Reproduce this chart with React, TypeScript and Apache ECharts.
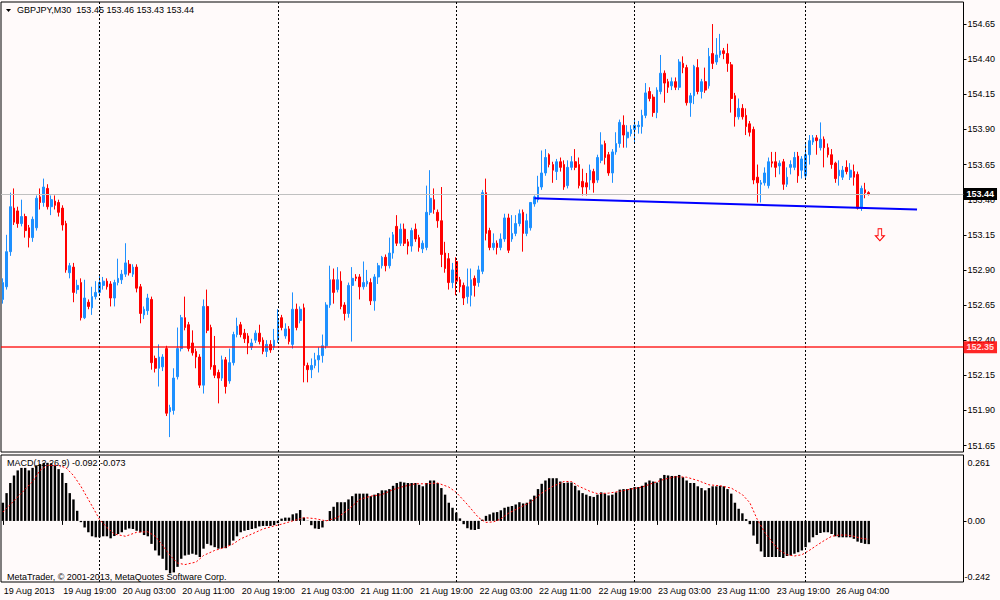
import React, { useEffect, useRef } from "react";
import * as echarts from "echarts";

// ---------- data ----------
const headerText = "GBPJPY,M30  153.45 153.46 153.43 153.44";
const macdTitle = "MACD(12,26,9) -0.092 -0.073";
const copyright = "MetaTrader, \u00A9 2001-2013, MetaQuotes Software Corp.";

// labels every 16 bars (8 hours of M30 bars)
const timeLabels = [
  "19 Aug 2013", "19 Aug 19:00", "20 Aug 03:00", "20 Aug 11:00", "20 Aug 19:00",
  "21 Aug 03:00", "21 Aug 11:00", "21 Aug 19:00", "22 Aug 03:00", "22 Aug 11:00",
  "22 Aug 19:00", "23 Aug 03:00", "23 Aug 11:00", "23 Aug 19:00", "26 Aug 04:00",
];
const labelStep = 16;
const totalSlots = 259; // bars + empty space to the right
const separatorBars = [26, 74, 122, 170, 216]; // day separators

const priceTicks = [151.65, 151.9, 152.15, 152.4, 152.65, 152.9, 153.15, 153.4, 153.65, 153.9, 154.15, 154.4, 154.65];
const priceMin = 151.604;
const priceMax = 154.807;
const macdMin = -0.242;
const macdMax = 0.261;

const bidPrice = 153.44;
const levelPrice = 152.35;
const trendStart = [143, 153.41];
const trendEnd = [246, 153.33];
const sellArrow = [236, 153.15];

// [open, close, low, high]
const candles = [
  [152.69, 152.81, 152.66, 152.84], [152.78, 153.03, 152.76, 153.15], [153.03, 153.35, 153.0, 153.45], [153.34, 153.24, 153.22, 153.48],
  [153.32, 153.23, 153.2, 153.35], [153.23, 153.28, 153.21, 153.4], [153.28, 153.18, 153.13, 153.3], [153.2, 153.13, 153.06, 153.22],
  [153.13, 153.26, 153.1, 153.28], [153.2, 153.41, 153.18, 153.43], [153.42, 153.38, 153.33, 153.48], [153.38, 153.49, 153.35, 153.55],
  [153.48, 153.35, 153.33, 153.51], [153.35, 153.4, 153.29, 153.43], [153.39, 153.36, 153.33, 153.43], [153.38, 153.31, 153.28, 153.4],
  [153.34, 153.22, 153.18, 153.36], [153.23, 152.9, 152.88, 153.25], [152.88, 152.93, 152.84, 152.95], [152.92, 152.74, 152.67, 152.95],
  [152.76, 152.79, 152.73, 152.83], [152.81, 152.56, 152.54, 152.84], [152.56, 152.7, 152.55, 152.83], [152.67, 152.64, 152.62, 152.69],
  [152.63, 152.71, 152.58, 152.78], [152.71, 152.74, 152.69, 152.82], [152.74, 152.81, 152.72, 152.86], [152.79, 152.82, 152.76, 152.85],
  [152.82, 152.78, 152.76, 152.84], [152.8, 152.7, 152.64, 152.82], [152.7, 152.81, 152.64, 152.83], [152.81, 152.84, 152.79, 152.98],
  [152.83, 152.87, 152.8, 152.9], [152.87, 152.95, 152.85, 153.09], [152.94, 152.88, 152.86, 152.97], [152.87, 152.92, 152.85, 152.94],
  [152.92, 152.77, 152.74, 152.94], [152.78, 152.59, 152.52, 152.8], [152.58, 152.62, 152.55, 152.64], [152.61, 152.7, 152.58, 152.73],
  [152.69, 152.24, 152.19, 152.71], [152.27, 152.2, 152.17, 152.29], [152.2, 152.28, 152.07, 152.37], [152.21, 152.28, 152.18, 152.3],
  [152.34, 151.88, 151.86, 152.36], [151.89, 151.92, 151.71, 151.94], [151.9, 152.13, 151.87, 152.2], [152.14, 152.34, 152.12, 152.49],
  [152.34, 152.56, 152.32, 152.58], [152.56, 152.49, 152.47, 152.71], [152.51, 152.34, 152.32, 152.53], [152.38, 152.31, 152.29, 152.47],
  [152.32, 152.28, 152.2, 152.34], [152.28, 152.08, 152.06, 152.3], [152.08, 152.64, 152.02, 152.69], [152.64, 152.47, 152.45, 152.76],
  [152.49, 152.21, 152.19, 152.51], [152.22, 152.15, 152.13, 152.43], [152.17, 152.13, 151.95, 152.19], [152.13, 152.26, 152.11, 152.29],
  [152.26, 152.07, 152.02, 152.28], [152.11, 152.24, 152.09, 152.34], [152.24, 152.44, 152.22, 152.46], [152.44, 152.5, 152.42, 152.56],
  [152.51, 152.44, 152.42, 152.53], [152.45, 152.41, 152.38, 152.48], [152.43, 152.38, 152.3, 152.45], [152.35, 152.38, 152.33, 152.41],
  [152.4, 152.45, 152.38, 152.47], [152.45, 152.39, 152.37, 152.51], [152.4, 152.32, 152.3, 152.42], [152.32, 152.37, 152.28, 152.4],
  [152.37, 152.33, 152.31, 152.4], [152.35, 152.4, 152.33, 152.48], [152.4, 152.54, 152.38, 152.62], [152.56, 152.49, 152.47, 152.58],
  [152.43, 152.48, 152.41, 152.52], [152.48, 152.39, 152.37, 152.5], [152.37, 152.62, 152.34, 152.74], [152.62, 152.49, 152.47, 152.66],
  [152.54, 152.62, 152.52, 152.64], [152.63, 152.22, 152.1, 152.66], [152.22, 152.19, 152.1, 152.24], [152.19, 152.22, 152.13, 152.27],
  [152.22, 152.26, 152.2, 152.31], [152.26, 152.29, 152.17, 152.35], [152.29, 152.36, 152.24, 152.44], [152.36, 152.65, 152.34, 152.67],
  [152.65, 152.83, 152.63, 152.93], [152.83, 152.74, 152.66, 152.91], [152.76, 152.83, 152.74, 152.92], [152.82, 152.64, 152.62, 152.89],
  [152.65, 152.59, 152.54, 152.67], [152.59, 152.79, 152.56, 152.81], [152.79, 152.84, 152.39, 152.92], [152.85, 152.84, 152.82, 152.87],
  [152.85, 152.78, 152.69, 152.87], [152.78, 152.81, 152.76, 152.96], [152.8, 152.82, 152.78, 152.9], [152.81, 152.68, 152.65, 152.84],
  [152.68, 152.85, 152.61, 152.87], [152.85, 152.93, 152.8, 152.95], [152.93, 152.99, 152.91, 153.0], [152.99, 152.93, 152.89, 153.01],
  [152.93, 153.02, 152.91, 153.13], [153.02, 153.15, 152.98, 153.17], [153.21, 153.09, 153.07, 153.29], [153.09, 153.19, 153.07, 153.23],
  [153.19, 153.09, 153.07, 153.23], [153.1, 153.07, 153.01, 153.12], [153.07, 153.18, 153.03, 153.2], [153.19, 153.12, 153.1, 153.23],
  [153.13, 153.06, 153.03, 153.15], [153.05, 153.09, 153.02, 153.11], [153.06, 153.31, 153.04, 153.5], [153.31, 153.41, 153.29, 153.61],
  [153.4, 153.33, 153.3, 153.48], [153.31, 153.25, 153.2, 153.33], [153.25, 153.01, 152.92, 153.49], [153.02, 152.91, 152.88, 153.1],
  [152.98, 152.81, 152.76, 153.02], [152.81, 152.9, 152.77, 152.95], [152.96, 152.82, 152.72, 152.99], [152.83, 152.78, 152.74, 152.85],
  [152.79, 152.7, 152.65, 152.81], [152.71, 152.78, 152.66, 152.91], [152.72, 152.83, 152.64, 152.91], [152.84, 152.79, 152.71, 152.86],
  [152.81, 152.9, 152.78, 152.93], [152.89, 153.45, 152.87, 153.47], [153.45, 153.16, 153.11, 153.55], [153.18, 153.06, 153.04, 153.2],
  [153.06, 153.09, 153.04, 153.16], [153.09, 153.06, 153.01, 153.11], [153.06, 153.12, 153.04, 153.16], [153.12, 153.27, 153.1, 153.3],
  [153.27, 153.04, 153.02, 153.3], [153.12, 153.16, 153.1, 153.29], [153.16, 153.23, 153.14, 153.29], [153.23, 153.3, 153.21, 153.33],
  [153.31, 153.16, 153.03, 153.33], [153.16, 153.25, 153.14, 153.3], [153.2, 153.38, 153.18, 153.38], [153.37, 153.42, 153.35, 153.43],
  [153.4, 153.49, 153.38, 153.57], [153.49, 153.59, 153.47, 153.75], [153.59, 153.7, 153.57, 153.76], [153.72, 153.65, 153.63, 153.73],
  [153.65, 153.61, 153.52, 153.67], [153.6, 153.67, 153.54, 153.69], [153.67, 153.63, 153.6, 153.7], [153.65, 153.49, 153.47, 153.68],
  [153.5, 153.63, 153.48, 153.68], [153.63, 153.67, 153.61, 153.71], [153.67, 153.63, 153.61, 153.76], [153.65, 153.5, 153.48, 153.7],
  [153.53, 153.49, 153.43, 153.62], [153.52, 153.49, 153.43, 153.59], [153.54, 153.61, 153.47, 153.65], [153.6, 153.52, 153.45, 153.62],
  [153.54, 153.7, 153.52, 153.72], [153.68, 153.79, 153.66, 153.88], [153.8, 153.7, 153.65, 153.82], [153.72, 153.59, 153.57, 153.74],
  [153.59, 153.74, 153.52, 153.76], [153.74, 153.8, 153.72, 153.88], [153.8, 153.95, 153.77, 153.97], [153.93, 153.86, 153.77, 154.0],
  [153.84, 153.88, 153.77, 153.93], [153.87, 153.9, 153.85, 153.93], [153.9, 153.93, 153.8, 153.97], [153.92, 153.93, 153.87, 153.96],
  [153.92, 154.0, 153.87, 154.04], [154.0, 154.16, 153.98, 154.23], [154.17, 154.12, 154.1, 154.2], [154.13, 154.02, 153.99, 154.15],
  [154.02, 154.18, 153.98, 154.2], [154.17, 154.3, 154.15, 154.43], [154.3, 154.23, 154.09, 154.32], [154.24, 154.2, 154.16, 154.26],
  [154.21, 154.24, 154.18, 154.27], [154.24, 154.2, 154.18, 154.27], [154.2, 154.38, 154.18, 154.4], [154.37, 154.34, 154.3, 154.42],
  [154.34, 154.09, 154.07, 154.36], [154.09, 154.14, 153.99, 154.16], [154.14, 154.35, 154.08, 154.36], [154.34, 154.17, 154.15, 154.4],
  [154.17, 154.24, 154.12, 154.26], [154.24, 154.18, 154.16, 154.34], [154.21, 154.42, 154.19, 154.48], [154.44, 154.37, 154.33, 154.65],
  [154.38, 154.43, 154.36, 154.55], [154.43, 154.46, 154.41, 154.58], [154.46, 154.44, 154.4, 154.48], [154.44, 154.37, 154.31, 154.51],
  [154.36, 154.12, 154.02, 154.38], [154.14, 153.99, 153.92, 154.16], [153.99, 154.05, 153.97, 154.12], [154.05, 153.99, 153.97, 154.08],
  [154.0, 153.92, 153.86, 154.05], [153.94, 153.88, 153.85, 153.96], [153.9, 153.54, 153.51, 153.92], [153.56, 153.52, 153.38, 153.65],
  [153.51, 153.52, 153.38, 153.54], [153.52, 153.59, 153.5, 153.63], [153.5, 153.67, 153.48, 153.7], [153.67, 153.66, 153.63, 153.74],
  [153.67, 153.63, 153.56, 153.74], [153.64, 153.66, 153.58, 153.68], [153.67, 153.51, 153.47, 153.69], [153.51, 153.56, 153.49, 153.63],
  [153.63, 153.65, 153.58, 153.68], [153.63, 153.7, 153.61, 153.74], [153.71, 153.57, 153.52, 153.74], [153.61, 153.69, 153.55, 153.71],
  [153.57, 153.72, 153.55, 153.81], [153.72, 153.82, 153.65, 153.86], [153.81, 153.84, 153.79, 153.86], [153.84, 153.82, 153.72, 153.86],
  [153.77, 153.83, 153.75, 153.95], [153.83, 153.77, 153.63, 153.85], [153.77, 153.72, 153.7, 153.8], [153.72, 153.65, 153.62, 153.76],
  [153.66, 153.55, 153.52, 153.67], [153.57, 153.61, 153.5, 153.68], [153.56, 153.61, 153.54, 153.64], [153.63, 153.6, 153.58, 153.68],
  [153.56, 153.61, 153.54, 153.66], [153.6, 153.56, 153.5, 153.65], [153.58, 153.34, 153.33, 153.6], [153.34, 153.48, 153.32, 153.5],
  [153.47, 153.45, 153.41, 153.52], [153.45, 153.44, 153.43, 153.46],
];

// MACD main line (histogram), one value per bar
const macdHist = [
  0.072, 0.11, 0.15, 0.18, 0.2, 0.21, 0.21, 0.2, 0.21, 0.22,
  0.225, 0.23, 0.23, 0.228, 0.22, 0.205, 0.19, 0.15, 0.11, 0.085,
  0.04, -0.005, -0.026, -0.045, -0.061, -0.065, -0.065, -0.061, -0.061, -0.069,
  -0.06, -0.052, -0.045, -0.035, -0.03, -0.032, -0.039, -0.045, -0.056, -0.061,
  -0.091, -0.117, -0.137, -0.15, -0.195, -0.208, -0.204, -0.182, -0.15, -0.137,
  -0.134, -0.13, -0.134, -0.143, -0.11, -0.091, -0.097, -0.104, -0.11, -0.108,
  -0.108, -0.097, -0.078, -0.061, -0.045, -0.039, -0.036, -0.032, -0.029, -0.022,
  -0.02, -0.02, -0.02, -0.017, -0.009, 0.009, 0.013, 0.013, 0.026, 0.03,
  0.043, 0.013, 0.001, -0.017, -0.03, -0.032, -0.026, 0.002, 0.039, 0.056,
  0.074, 0.074, 0.074, 0.085, 0.098, 0.108, 0.108, 0.108, 0.108, 0.098,
  0.104, 0.11, 0.121, 0.121, 0.126, 0.139, 0.15, 0.155, 0.152, 0.15,
  0.15, 0.15, 0.143, 0.137, 0.15, 0.16, 0.16, 0.15, 0.13, 0.104,
  0.072, 0.052, 0.033, 0.01, -0.013, -0.029, -0.035, -0.036, -0.032, 0.005,
  0.02, 0.026, 0.033, 0.035, 0.042, 0.052, 0.056, 0.059, 0.065, 0.074,
  0.069, 0.072, 0.085, 0.1, 0.126, 0.147, 0.16, 0.169, 0.169, 0.169,
  0.156, 0.15, 0.152, 0.152, 0.139, 0.121, 0.11, 0.104, 0.098, 0.095,
  0.104, 0.113, 0.108, 0.101, 0.104, 0.113, 0.124, 0.126, 0.126, 0.13,
  0.134, 0.134, 0.139, 0.152, 0.16, 0.156, 0.152, 0.169, 0.182, 0.18,
  0.178, 0.178, 0.182, 0.173, 0.16, 0.15, 0.15, 0.137, 0.13, 0.121,
  0.13, 0.137, 0.137, 0.139, 0.137, 0.126, 0.108, 0.072, 0.048, 0.03,
  0.007, -0.013, -0.058, -0.091, -0.121, -0.143, -0.143, -0.143, -0.143, -0.143,
  -0.147, -0.139, -0.137, -0.13, -0.124, -0.117, -0.104, -0.085, -0.065, -0.056,
  -0.048, -0.045, -0.045, -0.052, -0.061, -0.065, -0.065, -0.065, -0.065, -0.071,
  -0.082, -0.087, -0.091, -0.092,
];

// MACD signal line, read at [bar, value]
const macdSignal = [
  [0, 0.035], [5, 0.11], [8, 0.156], [10, 0.2], [12, 0.22], [15, 0.22], [17, 0.21], [19, 0.18],
  [21, 0.137], [23, 0.085], [25, 0.033], [26, 0.006], [28, -0.026], [30, -0.052], [33, -0.061],
  [36, -0.045], [39, -0.043], [41, -0.061], [43, -0.097], [45, -0.137], [47, -0.167], [49, -0.173],
  [52, -0.163], [54, -0.137], [57, -0.117], [60, -0.104], [62, -0.091], [64, -0.071], [67, -0.052],
  [70, -0.032], [73, -0.02], [75, -0.013], [78, 0.0], [81, 0.013], [84, 0.009], [87, 0.0],
  [90, 0.013], [93, 0.045], [96, 0.085], [99, 0.098], [102, 0.104], [105, 0.124], [108, 0.137],
  [111, 0.147], [114, 0.147], [117, 0.15], [120, 0.134], [122, 0.113], [125, 0.065], [128, 0.013],
  [130, -0.006], [132, -0.004], [134, 0.008], [136, 0.03], [139, 0.052], [142, 0.074], [145, 0.11],
  [148, 0.137], [151, 0.156], [153, 0.156], [155, 0.137], [158, 0.117], [160, 0.108], [163, 0.11],
  [166, 0.117], [169, 0.126], [172, 0.134], [175, 0.15], [178, 0.165], [181, 0.175], [184, 0.173],
  [187, 0.16], [190, 0.143], [193, 0.139], [196, 0.13], [199, 0.104], [201, 0.072], [203, 0.006],
  [205, -0.045], [207, -0.084], [209, -0.117], [211, -0.134], [213, -0.139], [215, -0.134],
  [217, -0.117], [219, -0.097], [221, -0.078], [223, -0.061], [225, -0.056], [227, -0.056],
  [229, -0.061], [231, -0.069], [233, -0.073],
];

// ---------- chart ----------
const FONT = "Liberation Sans";
const BG = "#FFFAFA";
const BULL = "#1E90FF";
const BEAR = "#FF0000";

const slots = Array.from({ length: totalSlots }, (_, i) => String(i));
const isLabelSlot = (i: number) => i % labelStep === 0 && i / labelStep < timeLabels.length;

const makeSeparators = () =>
  separatorBars.map((b) => ({
    xAxis: String(b),
    lineStyle: { color: "#000", type: [2, 2], width: 1 },
    label: { show: false },
  }));

const priceBox = (bg: string) => ({
  show: true, position: "end", distance: 0, backgroundColor: bg, color: "#fff",
  fontSize: 9, fontWeight: "bold", fontFamily: FONT, padding: [2, 3, 1, 3],
});

function buildOption(): any {
  return {
    animation: false,
    backgroundColor: BG,
    textStyle: { fontFamily: FONT },
    grid: [
      { left: 1, width: 962.5, top: 2, height: 450, show: true, borderColor: "#000", borderWidth: 1, backgroundColor: "transparent" },
      { left: 1, width: 962.5, top: 455, height: 127, show: true, borderColor: "#000", borderWidth: 1, backgroundColor: "transparent" },
    ],
    xAxis: [
      {
        type: "category", gridIndex: 0, data: slots, boundaryGap: true,
        axisLine: { show: false }, axisTick: { show: false }, axisLabel: { show: false }, splitLine: { show: false },
      },
      {
        type: "category", gridIndex: 1, data: slots, boundaryGap: true,
        axisLine: { show: false },
        axisTick: {
          show: true, alignWithLabel: true, length: 4, lineStyle: { color: "#000" },
          interval: (i: number) => isLabelSlot(i),
        },
        axisLabel: {
          interval: (i: number) => isLabelSlot(i),
          formatter: (v: string) => timeLabels[Number(v) / labelStep] || "",
          align: "left", margin: 4, fontSize: 9, color: "#000", fontFamily: FONT, padding: [0, 0, 0, 1],
        },
        splitLine: { show: false },
      },
    ],
    yAxis: [
      {
        type: "value", gridIndex: 0, position: "right", min: priceMin, max: priceMax,
        axisLine: { show: false },
        axisTick: { show: true, customValues: priceTicks, length: 3, lineStyle: { color: "#000" } },
        axisLabel: { customValues: priceTicks, formatter: (v: number) => v.toFixed(2), margin: 4, fontSize: 9, color: "#000", fontFamily: FONT },
        splitLine: { show: false },
      },
      {
        type: "value", gridIndex: 1, position: "right", min: macdMin, max: macdMax,
        axisLine: { show: false },
        axisTick: { show: true, customValues: [0], length: 3, lineStyle: { color: "#000" } },
        axisLabel: { customValues: [0], formatter: () => "0.00", margin: 4, fontSize: 9, color: "#000", fontFamily: FONT },
        splitLine: { show: false },
      },
      {
        type: "value", gridIndex: 1, position: "right", min: macdMin, max: macdMax,
        axisLine: { show: false }, axisTick: { show: false },
        axisLabel: { customValues: [macdMax], formatter: (v: number) => v.toFixed(3), margin: 4, fontSize: 9, color: "#000", fontFamily: FONT, verticalAlign: "top", padding: [3, 0, 0, 0] },
        splitLine: { show: false },
      },
      {
        type: "value", gridIndex: 1, position: "right", min: macdMin, max: macdMax,
        axisLine: { show: false }, axisTick: { show: false },
        axisLabel: { customValues: [macdMin], formatter: (v: number) => v.toFixed(3), margin: 1, fontSize: 9, color: "#000", fontFamily: FONT, verticalAlign: "bottom", padding: [0, 0, 1, 0] },
        splitLine: { show: false },
      },
    ],
    series: [
      {
        type: "candlestick", xAxisIndex: 0, yAxisIndex: 0, data: candles, barWidth: 2.2,
        itemStyle: { color: BULL, color0: BEAR, borderColor: BULL, borderColor0: BEAR, borderWidth: 1 },
        silent: true,
        markLine: {
          silent: true, symbol: "none", animation: false,
          data: [
            ...makeSeparators(),
            [
              { coord: [String(trendStart[0]), trendStart[1]], lineStyle: { color: "#0000FF", width: 2, type: "solid" }, label: { show: false } },
              { coord: [String(trendEnd[0]), trendEnd[1]] },
            ],
          ],
        },
      },
      {
        type: "scatter", xAxisIndex: 0, yAxisIndex: 0, data: [sellArrow], silent: true,
        symbol: "path://M3,0L7,0L7,7L10,7L5,12L0,7L3,7Z", symbolSize: [9, 12],
        itemStyle: { color: BG, borderColor: "#FF0000", borderWidth: 1, opacity: 1 },
        z: 5,
        markLine: {
          silent: true, symbol: "none", animation: false,
          lineStyle: { color: "#FF0000", type: "solid", width: 1.6 },
          data: [
            {
              yAxis: bidPrice,
              lineStyle: { color: "#C0C0C0", type: "solid", width: 1 },
              label: { ...priceBox("#000"), formatter: bidPrice.toFixed(2) },
            },
            {
              yAxis: levelPrice,
              lineStyle: { color: "#FF0000", type: "solid", width: 1.6, opacity: 0.85 },
              label: { ...priceBox("#FF0000"), formatter: levelPrice.toFixed(2) },
            },
          ],
        },
      },
      {
        type: "bar", xAxisIndex: 1, yAxisIndex: 1, data: macdHist, barWidth: 2.4, silent: true,
        itemStyle: { color: "#000" },
        markLine: { silent: true, symbol: "none", animation: false, data: makeSeparators() },
      },
      {
        type: "line", xAxisIndex: 1, yAxisIndex: 1, data: macdSignal, showSymbol: false, symbol: "none", silent: true,
        lineStyle: { color: "#FF0000", width: 1, type: [2, 2] }, z: 4,
      },
    ],
    graphic: [
      { type: "polygon", z: 1, shape: { points: [[6, 9], [11, 9], [8.5, 12]] }, style: { fill: "#000" } },
      { type: "text", z: 1, x: 17, y: 10, style: { text: headerText, fill: "#000", font: `9px "${FONT}"`, verticalAlign: "middle" } },
      { type: "text", z: 1, x: 7, y: 463, style: { text: macdTitle, fill: "#000", font: `9px "${FONT}"`, verticalAlign: "middle" } },
      { type: "text", z: 1, x: 7, y: 577, style: { text: copyright, fill: "#000", font: `9px "${FONT}"`, verticalAlign: "middle" } },
    ],
  };
}

export default function App() {
  const ref = useRef<HTMLDivElement | null>(null);
  useEffect(() => {
    document.body.style.margin = "0";
    if (!ref.current) return;
    const chart = echarts.init(ref.current, undefined, { renderer: "svg" });
    chart.setOption(buildOption());
    return () => chart.dispose();
  }, []);
  return <div ref={ref} style={{ position: "fixed", left: 0, top: 0, width: 1000, height: 600, background: BG }} />;
}
